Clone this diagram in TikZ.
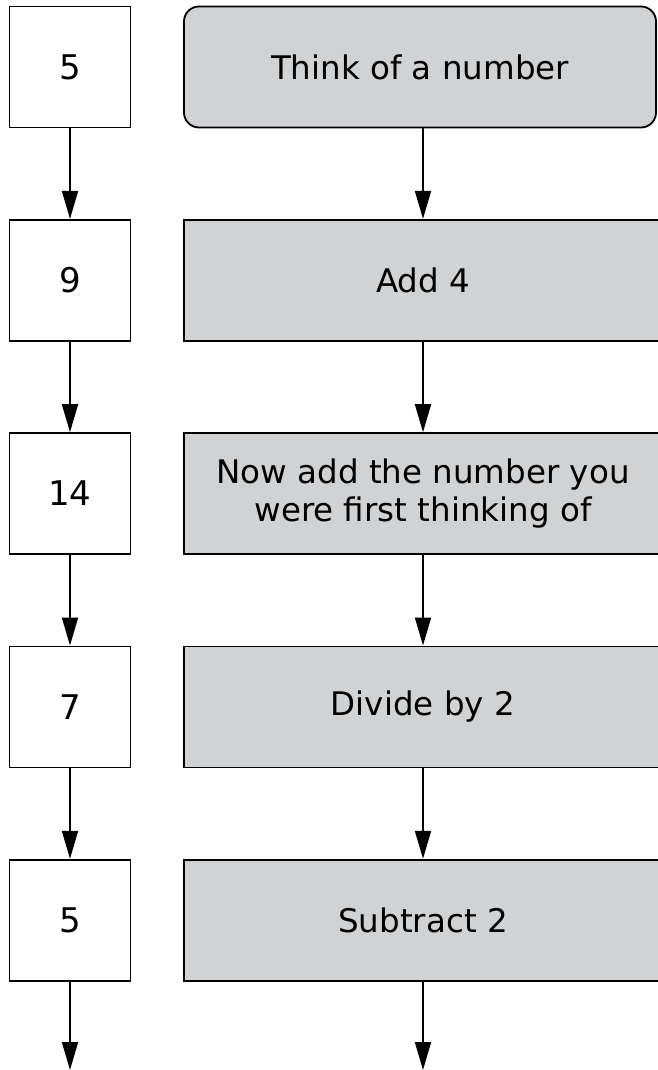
\documentclass[tikz,border=0pt]{standalone}
\usepackage{fontspec}
\setmainfont{DejaVu Sans}
\usetikzlibrary{arrows.meta}

\definecolor{stepgray}{RGB}{209,210,212}

\tikzset{
  numbox/.style={draw, line width=1.8pt, fill=white, minimum width=121pt,
    minimum height=121pt, inner sep=0pt, font=\fontsize{34}{36}\selectfont},
  stepbox/.style={draw, line width=1.8pt, fill=stepgray, minimum width=478pt,
    minimum height=121pt, inner sep=0pt, align=center,
    font=\fontsize{32.5}{38}\selectfont},
  flow/.style={line width=1.8pt, -{Triangle[length=28pt,width=16pt]}}
}

\begin{document}
\begin{tikzpicture}[x=1pt,y=-1pt]
\clip (0,0) rectangle (658,1070);
\fill[white] (0,0) rectangle (658,1070);

% running total
\foreach \val [count=\i] in {5,9,14,7,5}
  \node[numbox] (n\i) at (70,{67+213.3*(\i-1)}) {\val};

% instructions
\node[stepbox, rounded corners=15pt, minimum width=472pt] (s1) at (420,67) {Think of a number};
\node[stepbox] (s2) at (423,280.3) {Add 4};
\node[stepbox] (s3) at (423,493.6) {Now add the number you\\were first thinking of};
\node[stepbox] (s4) at (423,706.9) {Divide by 2};
\node[stepbox] (s5) at (423,920.2) {Subtract 2};

\coordinate (e1) at (70,1070);
\coordinate (e2) at (423,1070);

\foreach \i [evaluate=\i as \j using int(\i+1)] in {1,...,4} {
  \draw[flow] (n\i.south) -- (n\j.north);
  \draw[flow] (s\j.north |- s\i.south) -- (s\j.north);
}
\draw[flow] (n5.south) -- (e1);
\draw[flow] (s5.south) -- (e2);
\end{tikzpicture}
\end{document}
